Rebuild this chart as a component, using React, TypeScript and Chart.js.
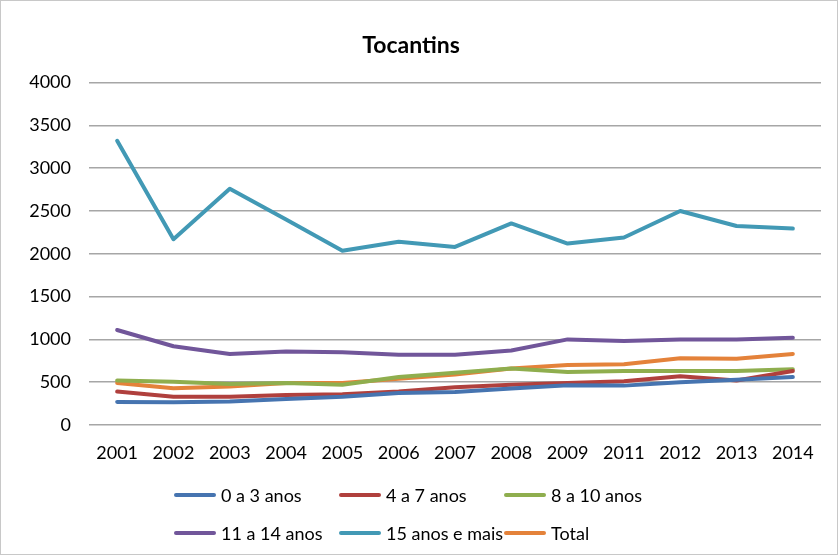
import React, { useEffect, useRef } from "react";
import { Chart, registerables } from "chart.js";

Chart.register(...registerables);

const years = ["2001", "2002", "2003", "2004", "2005", "2006", "2007", "2008", "2009", "2011", "2012", "2013", "2014"];
const s0a3 = [270, 265, 275, 305, 330, 375, 385, 425, 465, 460, 500, 530, 560];
const s4a7 = [390, 330, 330, 350, 360, 390, 440, 470, 490, 510, 570, 520, 630];
const s8a10 = [520, 505, 480, 490, 470, 560, 610, 660, 620, 630, 630, 630, 650];
const s11a14 = [1110, 920, 830, 860, 850, 820, 820, 870, 1000, 980, 1000, 1000, 1020];
const s15mais = [3320, 2170, 2760, 2400, 2035, 2140, 2080, 2355, 2120, 2190, 2500, 2325, 2295];
const sTotal = [490, 430, 450, 490, 490, 540, 590, 660, 700, 710, 780, 775, 830];
const yTicks = [0, 500, 1000, 1500, 2000, 2500, 3000, 3500, 4000];

const seriesNames = ["0 a 3 anos", "4 a 7 anos", "8 a 10 anos", "11 a 14 anos", "15 anos e mais", "Total"];
const seriesData = [s0a3, s4a7, s8a10, s11a14, s15mais, sTotal];
const seriesColors = ["#4674b0", "#b0403d", "#8fae4e", "#71569a", "#4299b5", "#e4823a"];

const FONT = "Lato, 'Open Sans', sans-serif";

const legendPlugin = {
  id: "gridLegend",
  afterDraw(chart: any) {
    const ctx = chart.ctx;
    const cols = [175, 340, 505];
    const rows = [494, 532];
    ctx.save();
    ctx.font = `18px ${FONT}`;
    ctx.textBaseline = "middle";
    ctx.textAlign = "left";
    chart.data.datasets.forEach((ds: any, i: number) => {
      const x = cols[i % 3];
      const y = rows[Math.floor(i / 3)];
      ctx.strokeStyle = ds.borderColor;
      ctx.lineWidth = 4;
      ctx.lineCap = "round";
      ctx.beginPath();
      ctx.moveTo(x, y);
      ctx.lineTo(x + 38, y);
      ctx.stroke();
      ctx.fillStyle = "#000";
      ctx.fillText(ds.label, x + 45, y + 1);
    });
    ctx.restore();
  },
};

export default function App() {
  const ref = useRef<HTMLCanvasElement>(null);
  useEffect(() => {
    document.body.style.margin = "0";
    const chart = new Chart(ref.current!, {
      type: "line",
      data: {
        labels: years,
        datasets: seriesData.map((d, i) => ({
          label: seriesNames[i],
          data: d,
          borderColor: seriesColors[i],
          backgroundColor: seriesColors[i],
          borderWidth: 4,
          pointRadius: 0,
          tension: 0,
          borderCapStyle: "round" as const,
          borderJoinStyle: "round" as const,
        })),
      },
      options: {
        animation: false,
        responsive: false,
        maintainAspectRatio: false,
        layout: { padding: { left: 0, right: 16, top: 0, bottom: 92 } },
        plugins: {
          legend: { display: false },
          tooltip: { enabled: false },
          title: {
            display: true,
            text: "Tocantins",
            color: "#000",
            font: { family: FONT, size: 23, weight: "bold" },
            padding: { top: 31, bottom: 23 },
          },
        },
        scales: {
          x: {
            offset: true,
            grid: { display: false, drawTicks: false },
            border: { display: false },
            ticks: { color: "#000", font: { family: FONT, size: 18 }, padding: 17, maxRotation: 0 },
            afterFit: (s: any) => { s.height = 37; },
          },
          y: {
            min: 0,
            max: 4000,
            afterBuildTicks: (s: any) => { s.ticks = yTicks.map((v) => ({ value: v })); },
            grid: { color: "#a6a6a6", lineWidth: 1.5, drawTicks: false },
            border: { display: false },
            ticks: {
              color: "#000",
              font: { family: FONT, size: 18 },
              padding: 18,
              callback: (v: any) => String(v),
            },
            afterFit: (s: any) => { s.width = 88; },
          },
        },
      },
      plugins: [legendPlugin],
    });
    return () => chart.destroy();
  }, []);
  return (
    <div style={{ position: "relative", width: 838, height: 555, boxSizing: "border-box", border: "1px solid #c8c8c8", overflow: "hidden" }}>
      <canvas ref={ref} width={836} height={553} style={{ display: "block" }} />
    </div>
  );
}
